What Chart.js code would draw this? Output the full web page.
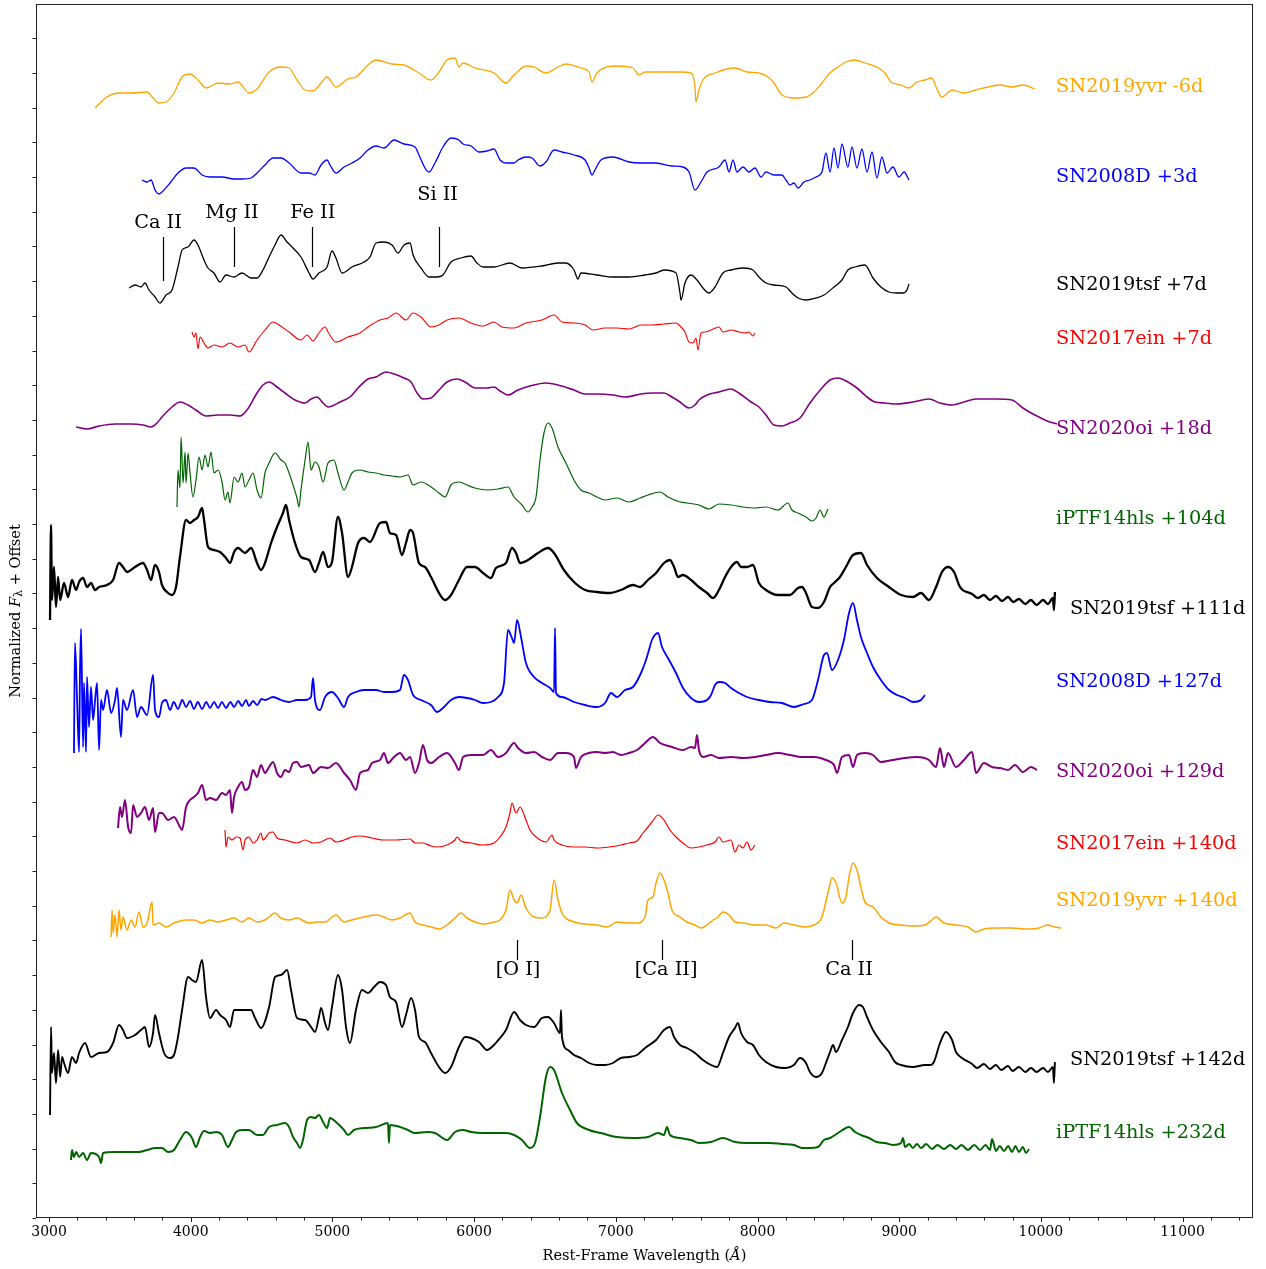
<!DOCTYPE html>
<html>
<head>
<meta charset="utf-8">
<title>Spectral sequence</title>
<script src="https://cdn.jsdelivr.net/npm/chart.js@4.4.1/dist/chart.umd.min.js"></script>
<style>
  html, body { margin: 0; padding: 0; background: #fff; }
  #wrap { width: 1266px; height: 1269px; }
</style>
</head>
<body>
<div id="wrap"><canvas id="spectra" width="1266" height="1269"></canvas></div>
<script>
// wavelength (A) , normalized flux + offset
const yvrEarly = [[3325,111.0],[3409,112.1],[3494,112.5],[3579,112.5],[3692,112.6],[3734,112.0],[3776,111.5],[3826,111.6],[3882,112.5],[3939,114.1],[3995,114.4],[4051,113.8],[4108,113.0],[4193,113.5],[4277,113.4],[4334,113.6],[4411,112.5],[4468,112.9],[4553,114.6],[4637,115.1],[4694,115.0],[4750,113.8],[4807,112.8],[4863,112.7],[4920,113.5],[4962,114.1],[5025,113.1],[5110,113.9],[5166,114.1],[5251,115.3],[5308,115.8],[5421,115.4],[5505,115.3],[5611,114.5],[5696,113.8],[5752,114.6],[5809,115.8],[5865,116.0],[5893,115.1],[5922,115.5],[6006,115.0],[6140,114.5],[6225,113.5],[6282,114.3],[6366,115.2],[6423,115.1],[6507,114.5],[6592,115.1],[6648,115.4],[6754,115.0],[6811,114.6],[6832,113.6],[6867,114.5],[7008,115.2],[7121,115.0],[7164,114.3],[7206,114.6],[7284,114.6],[7453,114.6],[7531,114.5],[7559,113.1],[7566,111.6],[7587,112.8],[7615,113.8],[7700,114.5],[7841,115.0],[7926,114.6],[8010,114.5],[8074,114.1],[8116,113.5],[8173,112.3],[8257,112.0],[8342,112.1],[8399,112.6],[8455,113.5],[8512,114.5],[8568,115.1],[8624,115.6],[8688,115.8],[8758,115.5],[8843,115.1],[8900,114.5],[8942,113.6],[9013,113.3],[9069,113.0],[9125,113.6],[9182,113.8],[9231,114.0],[9260,113.1],[9302,112.1],[9373,112.8],[9457,112.5],[9542,112.8],[9627,113.1],[9711,113.3],[9796,113.1],[9873,113.3],[9958,112.9]];

const d08Early = [[3656,103.8],[3692,103.6],[3720,103.8],[3748,102.8],[3776,102.4],[3797,102.6],[3854,103.5],[3910,104.5],[3967,105.0],[4023,105.0],[4080,104.3],[4136,104.1],[4221,104.1],[4306,103.9],[4362,103.9],[4426,104.0],[4468,104.5],[4524,105.3],[4581,106.0],[4637,106.0],[4694,105.5],[4778,104.5],[4835,104.5],[4877,104.3],[4920,105.3],[4962,105.8],[4983,105.3],[5025,104.5],[5082,105.1],[5138,105.5],[5195,106.0],[5251,106.8],[5308,107.2],[5364,107.0],[5435,107.8],[5505,107.4],[5583,107.1],[5611,106.3],[5653,105.0],[5682,104.6],[5724,105.5],[5780,107.1],[5837,108.0],[5893,107.8],[5922,107.4],[5978,107.2],[6035,106.6],[6091,106.7],[6140,106.9],[6183,105.8],[6225,105.5],[6282,105.5],[6310,105.8],[6366,106.1],[6409,106.0],[6465,105.2],[6507,105.6],[6564,106.8],[6620,106.6],[6705,106.3],[6783,105.8],[6811,105.0],[6832,104.3],[6853,104.8],[6895,105.8],[6980,106.1],[7093,105.6],[7178,105.5],[7284,105.5],[7396,105.2],[7474,105.1],[7517,104.6],[7559,102.8],[7601,103.6],[7644,104.6],[7728,105.1],[7771,105.8],[7799,104.6],[7827,105.8],[7855,104.6],[7898,105.1],[7940,104.6],[7982,105.0],[8025,104.1],[8060,104.6],[8116,104.3],[8173,104.3],[8201,103.8],[8229,103.3],[8257,103.5],[8286,103.0],[8328,103.6],[8370,103.8],[8413,104.1],[8455,104.6],[8483,106.5],[8512,104.6],[8540,107.0],[8568,105.0],[8596,107.4],[8638,105.1],[8667,107.1],[8702,105.0],[8737,106.9],[8773,104.6],[8808,106.6],[8843,104.0],[8878,106.1],[8914,104.5],[8956,105.1],[8998,104.1],[9034,104.6],[9069,103.8]];

const tsfEarly = [[3565,93.0],[3607,93.3],[3649,93.1],[3677,93.5],[3706,92.8],[3748,92.1],[3783,91.5],[3826,92.3],[3868,92.8],[3910,95.1],[3939,96.8],[3981,97.1],[4023,97.8],[4051,97.3],[4094,95.8],[4122,95.0],[4164,94.5],[4207,93.6],[4249,94.3],[4306,94.1],[4362,94.5],[4426,94.0],[4468,94.0],[4510,94.8],[4553,96.1],[4595,97.3],[4637,98.3],[4680,97.6],[4722,97.0],[4778,96.1],[4835,94.5],[4863,93.9],[4905,94.5],[4962,95.1],[4997,96.7],[5025,96.0],[5068,94.5],[5138,95.1],[5223,95.6],[5265,96.1],[5308,97.5],[5364,97.6],[5421,97.3],[5463,96.5],[5505,97.3],[5548,97.5],[5569,96.3],[5625,95.0],[5682,94.1],[5738,94.1],[5780,94.3],[5837,95.6],[5907,96.0],[5978,96.2],[6020,95.5],[6063,95.1],[6140,95.1],[6253,95.5],[6338,95.0],[6479,95.2],[6592,95.5],[6648,95.5],[6705,94.8],[6733,93.9],[6754,94.5],[6867,94.3],[6980,94.1],[7093,94.1],[7206,94.3],[7284,94.5],[7340,94.8],[7425,94.5],[7453,92.5],[7460,91.8],[7488,93.5],[7531,94.3],[7573,93.8],[7615,93.0],[7658,92.5],[7700,93.1],[7756,94.5],[7813,94.8],[7898,95.0],[7968,94.8],[8010,94.1],[8060,93.5],[8116,93.3],[8201,93.1],[8243,92.5],[8286,92.0],[8342,91.8],[8413,92.0],[8469,92.3],[8540,93.1],[8596,93.8],[8638,94.8],[8688,95.1],[8758,95.3],[8815,94.0],[8871,93.1],[8928,92.6],[8984,92.5],[9027,92.5],[9055,92.8],[9069,93.4]];

const einEarly = [[4009,88.6],[4023,88.1],[4037,88.5],[4051,86.9],[4066,88.1],[4094,87.5],[4122,87.0],[4164,87.3],[4221,87.1],[4277,87.5],[4334,87.1],[4383,87.3],[4411,86.6],[4468,87.8],[4524,88.8],[4581,89.6],[4623,89.3],[4694,88.6],[4778,87.8],[4821,88.3],[4863,87.7],[4905,88.5],[4948,89.1],[4969,88.6],[5025,87.6],[5110,88.1],[5195,88.5],[5251,89.1],[5336,89.8],[5392,90.0],[5449,90.5],[5519,89.8],[5569,90.5],[5625,90.1],[5696,89.1],[5752,89.3],[5809,89.8],[5893,90.0],[5978,89.5],[6063,89.2],[6140,89.6],[6197,89.1],[6282,89.0],[6366,89.5],[6479,89.8],[6564,90.3],[6620,89.6],[6705,89.5],[6783,89.3],[6839,88.8],[6924,89.0],[7008,89.0],[7093,88.9],[7178,89.3],[7255,89.3],[7340,89.4],[7425,89.5],[7460,89.1],[7488,88.6],[7517,87.6],[7545,87.5],[7566,88.0],[7580,86.8],[7601,88.5],[7629,88.6],[7672,88.8],[7728,89.1],[7756,88.6],[7813,88.8],[7869,88.6],[7912,88.5],[7940,88.6],[7968,88.2],[7982,88.5]];

const oiEarly = [[3191,79.1],[3268,78.9],[3353,79.2],[3466,79.4],[3579,79.4],[3663,79.3],[3720,79.1],[3762,79.5],[3797,80.1],[3868,81.1],[3924,81.6],[3981,81.3],[4037,80.8],[4108,80.2],[4193,80.3],[4277,80.3],[4348,80.2],[4397,80.8],[4468,82.5],[4510,83.3],[4553,83.6],[4609,83.1],[4665,82.5],[4736,81.8],[4807,81.5],[4849,81.9],[4891,82.1],[4934,81.5],[4969,81.1],[5054,81.6],[5124,82.1],[5181,83.0],[5251,83.9],[5308,84.1],[5378,84.6],[5435,84.4],[5505,84.0],[5555,83.6],[5597,82.5],[5639,81.9],[5696,82.0],[5752,82.8],[5809,83.6],[5879,83.9],[5936,83.6],[6006,83.0],[6091,83.0],[6140,83.1],[6183,82.7],[6239,82.3],[6310,82.8],[6394,83.2],[6507,83.5],[6592,83.3],[6705,82.8],[6783,82.4],[6867,82.4],[6980,82.3],[7065,82.1],[7178,82.4],[7255,82.5],[7340,82.5],[7396,82.1],[7453,81.6],[7488,81.2],[7517,81.0],[7559,81.3],[7587,81.8],[7644,82.3],[7728,82.6],[7813,82.9],[7869,82.5],[7954,81.6],[8010,81.1],[8060,80.3],[8116,79.3],[8173,79.2],[8229,79.5],[8300,80.0],[8370,81.5],[8455,83.0],[8512,83.8],[8568,84.0],[8638,83.6],[8702,83.0],[8773,82.1],[8829,81.6],[8900,81.5],[8984,81.4],[9097,81.6],[9210,81.9],[9288,81.5],[9373,81.3],[9457,81.6],[9542,81.9],[9683,81.9],[9796,81.8],[9873,81.0],[9958,80.3],[10043,79.7],[10113,79.4]];

const hlsEarly = [[3903,71.1],[3910,74.8],[3924,73.0],[3932,78.1],[3946,73.5],[3960,76.6],[3967,73.5],[3981,76.5],[3995,74.5],[4016,72.1],[4037,73.8],[4059,76.1],[4080,74.8],[4101,76.3],[4122,75.1],[4143,76.6],[4164,74.5],[4193,74.8],[4221,73.6],[4242,71.8],[4263,72.6],[4277,71.5],[4306,74.1],[4334,73.6],[4362,74.5],[4383,73.1],[4411,73.8],[4440,74.5],[4468,72.8],[4496,72.0],[4524,74.5],[4553,75.5],[4595,76.5],[4637,75.8],[4665,75.5],[4694,74.5],[4722,73.3],[4750,72.0],[4764,71.1],[4778,72.8],[4807,75.8],[4828,77.6],[4849,74.8],[4877,75.6],[4905,75.1],[4934,73.6],[4969,75.5],[5011,75.8],[5039,74.5],[5082,72.8],[5110,73.6],[5138,74.5],[5195,74.8],[5251,74.6],[5308,74.5],[5364,74.3],[5421,74.2],[5477,74.1],[5533,74.3],[5569,73.3],[5625,73.6],[5696,73.1],[5752,72.5],[5795,72.1],[5837,73.3],[5893,73.6],[5950,73.3],[6006,73.0],[6091,72.8],[6169,72.9],[6239,73.1],[6282,72.1],[6338,71.3],[6380,70.6],[6409,71.1],[6437,72.1],[6465,75.8],[6493,78.5],[6521,79.5],[6550,79.0],[6592,77.1],[6648,75.5],[6705,73.8],[6754,72.8],[6811,72.5],[6867,72.1],[6924,71.8],[7008,72.0],[7093,71.6],[7171,72.0],[7227,72.3],[7312,72.6],[7368,72.1],[7453,71.6],[7502,71.5],[7587,71.3],[7658,70.9],[7728,71.4],[7813,71.3],[7898,71.1],[7982,71.0],[8060,71.1],[8145,70.8],[8215,71.5],[8243,70.8],[8286,70.5],[8342,70.1],[8384,69.7],[8413,70.0],[8441,70.8],[8469,70.1],[8497,70.9]];

const tsfMid = [[3007,59.8],[3014,69.3],[3021,61.8],[3035,65.1],[3049,61.1],[3064,64.1],[3078,61.8],[3106,63.5],[3134,62.1],[3162,63.8],[3191,62.8],[3212,63.6],[3240,64.0],[3268,63.1],[3296,63.5],[3325,62.8],[3353,63.1],[3409,63.3],[3452,63.8],[3494,65.5],[3522,65.1],[3550,64.6],[3607,65.1],[3663,65.5],[3692,64.8],[3720,63.8],[3748,65.3],[3776,64.6],[3797,63.3],[3840,62.5],[3868,62.3],[3896,63.1],[3924,66.1],[3967,69.8],[3995,69.5],[4023,69.8],[4051,70.1],[4080,71.0],[4094,69.8],[4122,67.1],[4164,66.8],[4207,66.6],[4249,66.0],[4277,65.5],[4306,66.6],[4334,67.0],[4383,66.5],[4426,67.0],[4468,65.5],[4496,64.8],[4524,65.5],[4567,67.5],[4609,69.1],[4651,70.5],[4672,71.3],[4694,69.8],[4736,67.5],[4778,66.1],[4835,65.8],[4877,64.6],[4905,65.5],[4934,66.6],[4969,65.1],[4997,65.6],[5039,70.1],[5068,68.5],[5110,64.1],[5138,65.1],[5181,67.5],[5223,68.0],[5265,67.6],[5336,69.5],[5378,69.6],[5406,68.5],[5449,68.3],[5491,66.3],[5519,67.5],[5548,68.8],[5569,68.5],[5611,65.5],[5653,65.1],[5696,64.1],[5752,62.5],[5795,61.8],[5837,62.3],[5893,63.8],[5950,65.1],[6006,65.1],[6063,64.5],[6119,64.0],[6154,65.0],[6225,65.5],[6267,67.0],[6296,66.5],[6324,65.5],[6380,65.8],[6451,66.5],[6521,67.0],[6564,66.5],[6634,64.8],[6705,63.6],[6783,62.8],[6867,62.6],[6952,62.5],[7036,62.8],[7121,63.3],[7171,63.1],[7227,63.8],[7284,64.5],[7340,65.5],[7382,65.8],[7411,65.1],[7439,64.1],[7474,64.3],[7531,63.8],[7587,63.1],[7644,62.5],[7686,62.0],[7728,62.8],[7771,64.1],[7813,65.1],[7855,65.6],[7884,65.1],[7926,65.1],[7968,65.3],[8010,63.5],[8060,62.8],[8145,62.3],[8229,62.3],[8286,63.0],[8314,63.1],[8342,62.5],[8384,61.1],[8427,61.0],[8469,61.6],[8512,63.1],[8540,63.5],[8582,64.1],[8624,65.1],[8674,66.3],[8730,66.5],[8773,65.3],[8843,64.0],[8928,63.1],[9013,62.3],[9097,62.1],[9154,62.5],[9210,61.8],[9260,63.1],[9302,64.6],[9344,65.1],[9387,64.6],[9429,63.1],[9514,62.4],[9555,62.0],[9598,62.3],[9640,61.8],[9683,62.2],[9725,61.7],[9768,62.1],[9805,61.6],[9845,61.9],[9890,61.4],[9930,61.8],[9970,61.3],[10015,61.8],[10050,61.4],[10085,62.0],[10092,60.8],[10099,62.6]];

const d08Late = [[3176,46.5],[3183,57.5],[3198,51.8],[3212,46.6],[3219,55.1],[3226,58.9],[3240,47.1],[3247,53.5],[3261,46.6],[3268,54.1],[3282,49.1],[3296,53.1],[3311,49.8],[3325,51.8],[3339,53.5],[3353,46.8],[3367,51.8],[3381,50.8],[3409,52.8],[3438,50.5],[3466,51.8],[3480,53.0],[3508,48.1],[3522,51.8],[3550,50.8],[3593,52.8],[3621,50.1],[3649,51.1],[3692,50.3],[3734,54.3],[3748,50.8],[3776,50.1],[3797,51.5],[3825,51.8],[3854,50.8],[3880,51.6],[3910,50.9],[3940,51.8],[3967,51.1],[3995,51.7],[4023,50.9],[4050,51.6],[4080,50.9],[4110,51.6],[4136,51.0],[4165,51.6],[4193,51.0],[4220,51.6],[4249,51.0],[4280,51.6],[4306,51.1],[4335,51.7],[4362,51.2],[4390,51.8],[4411,51.2],[4440,51.7],[4468,51.3],[4500,51.9],[4524,51.8],[4581,52.1],[4637,51.8],[4694,51.6],[4750,51.8],[4807,51.8],[4849,52.1],[4863,54.0],[4877,51.8],[4912,50.8],[4948,52.1],[4997,52.6],[5039,52.0],[5082,51.1],[5110,52.1],[5166,52.6],[5223,52.8],[5308,52.8],[5364,52.6],[5421,52.6],[5477,52.8],[5505,54.3],[5533,53.8],[5569,52.3],[5625,51.8],[5696,51.3],[5738,50.6],[5780,51.0],[5837,51.8],[5893,52.1],[5950,52.0],[6006,51.8],[6063,51.5],[6119,51.6],[6169,52.1],[6211,53.5],[6239,58.8],[6267,58.0],[6282,57.5],[6303,59.8],[6331,58.1],[6366,55.5],[6423,54.1],[6479,53.5],[6536,53.0],[6564,52.6],[6571,59.0],[6578,52.5],[6620,52.1],[6705,51.6],[6783,51.3],[6867,51.1],[6924,51.5],[6966,52.5],[7008,52.1],[7065,52.8],[7121,53.1],[7178,54.5],[7213,55.8],[7234,56.8],[7255,57.8],[7298,58.5],[7326,57.1],[7368,56.0],[7425,54.5],[7474,53.0],[7531,52.0],[7587,51.6],[7644,51.8],[7672,52.3],[7700,53.3],[7728,53.6],[7771,53.5],[7813,53.0],[7869,52.5],[7926,52.1],[8010,51.8],[8088,51.6],[8173,51.5],[8257,51.1],[8328,51.4],[8384,51.8],[8427,53.8],[8469,56.3],[8490,56.5],[8526,54.8],[8568,55.8],[8610,57.8],[8646,60.5],[8674,61.5],[8702,59.8],[8730,58.1],[8773,56.5],[8815,55.1],[8871,53.8],[8928,52.8],[8984,52.3],[9041,52.0],[9097,51.6],[9154,51.8],[9182,52.3]];

const oiLate = [[3487,39.0],[3501,41.1],[3515,40.1],[3536,41.8],[3558,39.1],[3579,38.5],[3593,41.3],[3621,40.1],[3649,40.5],[3677,41.1],[3706,39.8],[3734,41.0],[3748,38.6],[3776,40.5],[3797,40.5],[3840,39.8],[3882,40.1],[3924,39.1],[3939,38.8],[3967,41.1],[3995,41.8],[4023,42.1],[4051,42.5],[4080,43.3],[4108,41.8],[4136,42.0],[4179,41.8],[4221,42.5],[4249,42.3],[4277,42.8],[4291,40.5],[4306,42.1],[4334,43.1],[4362,43.6],[4383,42.8],[4411,43.1],[4440,44.8],[4468,44.1],[4496,45.3],[4524,44.5],[4553,45.1],[4581,45.6],[4609,44.5],[4637,44.1],[4665,44.8],[4694,44.6],[4722,45.5],[4750,45.6],[4778,45.1],[4835,45.3],[4863,44.5],[4920,45.1],[4969,45.0],[5025,45.5],[5082,44.5],[5124,43.8],[5166,42.8],[5195,44.5],[5251,44.8],[5279,45.5],[5336,45.8],[5364,46.5],[5392,45.5],[5435,46.1],[5477,46.5],[5519,45.8],[5548,46.1],[5583,44.5],[5611,45.5],[5639,47.3],[5668,45.8],[5696,45.5],[5752,46.1],[5809,46.5],[5865,45.5],[5893,44.8],[5922,46.1],[5978,46.3],[6063,46.3],[6119,46.8],[6169,46.1],[6225,46.5],[6282,47.5],[6310,47.0],[6366,46.5],[6423,46.6],[6479,46.1],[6536,45.8],[6592,46.5],[6648,46.5],[6705,46.1],[6719,45.0],[6754,46.1],[6811,46.5],[6867,46.6],[6924,46.5],[6980,46.6],[7036,46.3],[7093,46.5],[7150,46.8],[7206,47.5],[7262,48.1],[7312,47.5],[7396,47.1],[7474,46.8],[7531,47.1],[7559,47.0],[7573,48.3],[7587,46.8],[7615,46.1],[7672,46.3],[7728,46.0],[7813,46.1],[7898,46.0],[7982,46.1],[8060,46.3],[8145,46.5],[8229,46.3],[8314,46.1],[8399,46.1],[8483,45.8],[8540,45.3],[8561,44.5],[8596,46.1],[8646,46.3],[8674,45.1],[8702,46.3],[8758,46.5],[8815,46.3],[8871,45.6],[8956,45.8],[9041,46.0],[9125,46.1],[9210,45.8],[9260,45.1],[9288,47.0],[9316,45.1],[9344,46.5],[9401,45.1],[9457,45.8],[9514,46.6],[9542,44.5],[9598,45.5],[9655,45.1],[9711,45.0],[9768,44.8],[9817,45.3],[9873,44.6],[9930,45.1],[9972,44.8]];

const einLate = [[4242,38.8],[4249,37.1],[4263,38.1],[4291,37.8],[4320,38.1],[4348,38.0],[4369,36.8],[4383,37.8],[4411,38.1],[4440,37.5],[4468,37.8],[4496,38.5],[4510,37.8],[4553,38.5],[4581,38.6],[4609,38.0],[4665,37.8],[4750,37.5],[4807,37.8],[4863,37.5],[4920,37.6],[4983,38.0],[5025,37.6],[5082,37.8],[5138,38.1],[5195,38.2],[5279,38.0],[5364,37.8],[5449,37.8],[5548,37.9],[5583,37.5],[5639,37.5],[5696,37.2],[5738,37.1],[5809,37.3],[5865,37.8],[5879,38.1],[5907,37.7],[5978,37.5],[6063,37.3],[6140,37.5],[6183,38.1],[6225,39.1],[6253,40.5],[6267,41.5],[6296,40.5],[6324,41.1],[6366,39.8],[6394,38.8],[6437,38.1],[6507,37.6],[6550,38.3],[6564,37.8],[6620,37.3],[6705,37.1],[6783,37.1],[6867,37.0],[6952,37.1],[7036,37.3],[7093,37.5],[7150,37.7],[7192,38.5],[7227,39.1],[7255,39.6],[7298,40.3],[7340,39.8],[7382,38.8],[7425,38.1],[7474,37.5],[7531,37.0],[7587,37.1],[7644,37.3],[7700,37.6],[7728,38.1],[7756,37.6],[7813,37.8],[7841,36.6],[7869,37.3],[7898,37.0],[7926,37.6],[7954,36.8],[7982,37.3]];

const yvrLate = [[3438,28.1],[3445,30.8],[3452,28.5],[3466,30.3],[3480,28.1],[3494,30.8],[3508,28.8],[3522,30.1],[3550,28.8],[3579,29.8],[3607,29.1],[3635,30.6],[3663,29.1],[3692,29.5],[3727,31.6],[3734,29.3],[3776,29.5],[3826,29.1],[3882,29.5],[3967,29.8],[4023,29.8],[4080,29.5],[4136,29.8],[4193,29.6],[4249,29.8],[4306,30.0],[4362,29.6],[4411,30.0],[4468,29.6],[4524,29.8],[4553,30.1],[4595,30.5],[4637,30.0],[4694,29.8],[4750,30.0],[4835,29.5],[4891,29.6],[4948,29.6],[5025,30.3],[5082,29.6],[5138,29.8],[5223,30.1],[5308,30.3],[5364,30.1],[5421,29.8],[5477,30.0],[5548,30.5],[5583,29.6],[5639,29.3],[5696,29.1],[5752,28.9],[5809,29.3],[5865,30.0],[5907,30.5],[5950,30.0],[6006,29.6],[6063,29.4],[6140,29.6],[6183,29.8],[6225,30.8],[6253,32.8],[6282,31.8],[6303,31.5],[6331,32.3],[6366,31.0],[6423,30.1],[6479,30.0],[6536,30.8],[6564,33.8],[6592,31.8],[6620,30.5],[6705,29.6],[6783,29.4],[6867,29.3],[6938,29.1],[7008,29.6],[7093,29.5],[7150,29.5],[7206,30.1],[7227,31.8],[7262,32.1],[7284,33.5],[7312,34.5],[7340,33.8],[7368,32.5],[7396,30.8],[7453,30.1],[7502,29.6],[7559,29.3],[7601,29.0],[7644,29.3],[7686,29.8],[7714,30.0],[7756,30.6],[7799,30.3],[7841,29.6],[7898,29.5],[7982,29.3],[8060,29.3],[8131,29.0],[8187,29.5],[8257,29.3],[8342,29.1],[8399,29.3],[8455,30.1],[8497,32.5],[8526,34.0],[8554,33.5],[8596,31.5],[8624,32.1],[8646,34.1],[8674,35.5],[8702,34.8],[8730,33.1],[8758,31.6],[8815,31.1],[8871,30.1],[8928,29.5],[9013,29.3],[9097,29.2],[9182,29.3],[9231,29.8],[9260,30.1],[9316,29.5],[9401,29.3],[9485,29.1],[9542,28.6],[9598,28.9],[9683,29.0],[9796,29.0],[9902,28.9],[9987,29.0],[10043,29.3],[10099,29.1],[10142,29.0]];

const tsfLate = [[3007,10.3],[3014,19.1],[3021,14.5],[3035,16.5],[3049,13.5],[3064,16.8],[3078,14.1],[3092,16.1],[3106,15.5],[3134,14.5],[3162,16.1],[3191,15.5],[3212,16.5],[3254,17.5],[3296,16.1],[3353,16.5],[3409,16.6],[3452,17.5],[3494,19.3],[3522,18.8],[3550,18.0],[3607,18.3],[3649,18.8],[3677,19.1],[3706,17.1],[3734,18.5],[3748,20.3],[3776,18.5],[3812,16.5],[3854,16.0],[3882,16.3],[3910,18.1],[3939,20.8],[3981,24.1],[4009,23.8],[4037,23.6],[4080,25.8],[4108,22.1],[4136,20.0],[4179,20.8],[4207,20.3],[4249,19.8],[4277,19.1],[4306,20.8],[4362,20.8],[4426,20.8],[4454,20.0],[4496,19.0],[4553,21.1],[4595,24.1],[4637,24.3],[4680,24.8],[4708,22.8],[4750,20.0],[4807,19.8],[4849,19.1],[4877,18.6],[4905,20.1],[4920,21.0],[4948,19.5],[4969,18.8],[4997,21.1],[5039,24.3],[5068,22.8],[5096,19.1],[5124,17.5],[5166,20.8],[5209,22.8],[5251,22.5],[5294,23.1],[5336,23.6],[5378,23.3],[5406,22.1],[5449,21.6],[5491,19.1],[5519,20.3],[5555,22.0],[5583,20.8],[5611,18.1],[5653,17.6],[5696,16.5],[5752,15.1],[5795,14.5],[5837,15.1],[5893,17.1],[5936,18.1],[5978,18.0],[6035,17.6],[6091,16.8],[6140,17.3],[6183,18.0],[6225,18.8],[6282,20.6],[6324,19.8],[6366,19.3],[6423,19.1],[6479,20.0],[6521,20.1],[6564,19.5],[6606,18.5],[6613,20.8],[6620,18.1],[6663,16.8],[6705,16.3],[6754,16.0],[6811,15.5],[6867,15.3],[6924,15.3],[6980,15.5],[7036,16.0],[7093,16.1],[7150,16.3],[7206,17.0],[7284,17.8],[7340,18.8],[7382,19.1],[7411,18.1],[7453,17.3],[7502,17.0],[7559,16.5],[7615,15.8],[7672,15.3],[7714,15.1],[7756,16.5],[7799,18.1],[7841,19.0],[7862,19.5],[7884,18.5],[7926,17.6],[7968,17.3],[8010,16.3],[8060,15.6],[8131,15.1],[8201,15.0],[8257,15.3],[8300,16.0],[8342,15.5],[8370,14.6],[8413,14.1],[8455,14.5],[8483,15.5],[8512,16.6],[8533,17.3],[8554,16.6],[8596,17.8],[8638,19.1],[8674,20.5],[8716,21.3],[8744,21.1],[8773,20.1],[8815,18.8],[8871,17.6],[8928,16.6],[8970,15.6],[9013,15.3],[9097,15.1],[9182,15.3],[9224,15.3],[9245,15.6],[9288,17.5],[9330,18.6],[9373,17.8],[9401,16.6],[9443,16.0],[9514,15.4],[9550,15.0],[9598,15.4],[9640,14.9],[9683,15.3],[9720,14.8],[9768,15.2],[9800,14.7],[9845,15.1],[9890,14.6],[9930,15.0],[9970,14.6],[10015,15.0],[10050,14.6],[10085,15.1],[10092,13.5],[10099,15.6]];

const hlsLate = [[3155,5.8],[3162,6.8],[3176,6.1],[3191,6.6],[3212,6.1],[3240,6.5],[3268,5.8],[3296,6.5],[3353,6.1],[3367,5.5],[3381,6.5],[3466,6.6],[3550,6.6],[3635,6.6],[3692,6.8],[3748,7.0],[3797,7.0],[3840,6.6],[3882,6.8],[3924,7.8],[3967,8.6],[4009,8.0],[4037,7.1],[4066,8.1],[4094,8.7],[4136,8.5],[4179,8.6],[4221,8.3],[4263,7.1],[4291,7.8],[4320,8.6],[4362,8.8],[4411,8.8],[4468,8.3],[4510,8.3],[4553,9.1],[4609,9.3],[4665,9.5],[4694,9.1],[4722,8.1],[4750,7.5],[4771,7.0],[4792,7.8],[4821,9.8],[4849,10.1],[4877,10.0],[4905,10.3],[4934,9.6],[4962,9.0],[4983,10.0],[5025,9.6],[5082,8.8],[5110,8.3],[5152,8.8],[5223,9.0],[5308,9.1],[5392,9.5],[5399,7.5],[5406,9.3],[5477,9.1],[5533,8.8],[5583,8.5],[5668,8.6],[5724,8.5],[5809,7.8],[5865,8.6],[5922,8.8],[5978,8.6],[6063,8.5],[6140,8.5],[6225,8.5],[6282,8.3],[6338,7.8],[6394,7.0],[6430,7.5],[6465,10.1],[6507,14.1],[6536,15.1],[6564,14.8],[6620,12.5],[6677,10.8],[6726,9.5],[6811,8.8],[6895,8.5],[7008,8.1],[7121,8.0],[7227,8.1],[7298,8.5],[7340,8.3],[7361,9.1],[7382,8.3],[7453,8.0],[7531,7.8],[7587,7.5],[7672,7.6],[7756,8.0],[7841,7.6],[7926,7.5],[8010,7.5],[8088,7.5],[8173,7.4],[8257,7.3],[8314,7.0],[8370,7.0],[8427,7.1],[8469,7.8],[8512,8.0],[8568,8.5],[8624,9.0],[8646,9.1],[8688,8.6],[8730,8.3],[8787,8.0],[8843,7.6],[8900,7.5],[8956,7.3],[9013,7.5],[9027,8.0],[9041,7.1],[9070,7.4],[9097,7.0],[9125,7.4],[9154,7.0],[9190,7.4],[9231,6.9],[9270,7.3],[9316,6.9],[9360,7.3],[9401,6.9],[9440,7.3],[9485,6.8],[9530,7.3],[9570,6.8],[9610,7.3],[9641,6.8],[9655,7.9],[9683,6.7],[9710,7.2],[9739,6.7],[9770,7.2],[9796,6.6],[9820,7.2],[9845,6.6],[9873,7.1],[9895,6.5],[9916,6.9]];

// name labels on the right
const labelNames = ["SN2019yvr -6d", "SN2008D +3d", "SN2019tsf +7d", "SN2017ein +7d", "SN2020oi +18d", "iPTF14hls +104d", "SN2019tsf +111d", "SN2008D +127d", "SN2020oi +129d", "SN2017ein +140d", "SN2019yvr +140d", "SN2019tsf +142d", "iPTF14hls +232d"];
const labelWave = [10107, 10107, 10107, 10107, 10107, 10107, 10205, 10107, 10107, 10107, 10107, 10205, 10107];
const labelLevel = [113.1, 104.1, 93.3, 87.9, 78.9, 69.9, 60.9, 53.6, 44.6, 37.4, 31.7, 15.8, 8.5];

// line identifications
const lineNames = ["Ca II", "Mg II", "Fe II", "Si II", "[O I]", "[Ca II]", "Ca II"];
const lineWave = [3801, 4303, 4853, 5752, 6303, 7326, 8670];
const lineTop = [98.1, 99.1, 99.1, 99.1, 27.8, 27.8, 27.8];
const lineBottom = [93.7, 95.1, 95.1, 95.1, 25.8, 25.8, 25.8];
const lineTextWave = [3769, 4291, 4861, 5742, 6310, 7355, 8646];
const lineTextLevel = [99.5, 100.5, 100.5, 102.3, 24.8, 24.8, 24.8];

const xMajorTicks = [3000, 4000, 5000, 6000, 7000, 8000, 9000, 10000, 11000];
const yTickStep = 3.47;

const ORANGE = "#ffa500", BLUE = "#0000ff", BLACK = "#000000", RED = "#ff0000", PURPLE = "#800080", GREEN = "#006400";
const labelColors = [ORANGE, BLUE, BLACK, RED, PURPLE, GREEN, BLACK, BLUE, PURPLE, RED, ORANGE, BLACK, GREEN];

const spectra = [
  [yvrEarly, ORANGE, 1.3],
  [d08Early, BLUE, 1.3],
  [tsfEarly, BLACK, 1.3],
  [einEarly, RED, 1.1],
  [oiEarly, PURPLE, 1.6],
  [hlsEarly, GREEN, 1.2],
  [tsfMid, BLACK, 2.3],
  [d08Late, BLUE, 1.8],
  [oiLate, PURPLE, 2.0],
  [einLate, RED, 1.2],
  [yvrLate, ORANGE, 1.5],
  [tsfLate, BLACK, 1.9],
  [hlsLate, GREEN, 2.0],
];

const SERIF = "'DejaVu Serif', 'Liberation Serif', serif";

const decorPlugin = {
  id: "decor",
  afterDraw(chart) {
    const ctx = chart.ctx;
    const xs = chart.scales.x;
    const ys = chart.scales.y;
    const a = chart.chartArea;
    ctx.save();

    // frame
    ctx.strokeStyle = "#222";
    ctx.lineWidth = 1;
    ctx.strokeRect(a.left + 0.5, a.top + 0.5, a.right - a.left - 1, a.bottom - a.top - 1);

    // ticks
    ctx.beginPath();
    for (let v = 3000; v <= 11400; v += 200) {
      const px = Math.round(xs.getPixelForValue(v)) + 0.5;
      const len = v % 1000 === 0 ? 4 : 2.5;
      ctx.moveTo(px, a.bottom);
      ctx.lineTo(px, a.bottom + len);
    }
    for (let k = 0; k * yTickStep <= ys.max + 0.01; k++) {
      const py = Math.round(ys.getPixelForValue(k * yTickStep)) + 0.5;
      ctx.moveTo(a.left, py);
      ctx.lineTo(a.left - 3.5, py);
    }
    ctx.stroke();

    // line identification marks
    ctx.strokeStyle = "#000";
    ctx.lineWidth = 1.2;
    ctx.beginPath();
    lineWave.forEach((w, i) => {
      const px = Math.round(xs.getPixelForValue(w)) + 0.5;
      ctx.moveTo(px, ys.getPixelForValue(lineTop[i]));
      ctx.lineTo(px, ys.getPixelForValue(lineBottom[i]));
    });
    ctx.stroke();

    ctx.font = "19.3px " + SERIF;
    ctx.fillStyle = "#000";
    ctx.textAlign = "center";
    ctx.textBaseline = "middle";
    lineNames.forEach((n, i) => {
      ctx.fillText(n, xs.getPixelForValue(lineTextWave[i]), ys.getPixelForValue(lineTextLevel[i]));
    });

    // supernova labels
    ctx.textAlign = "left";
    ctx.font = "19.3px " + SERIF;
    labelNames.forEach((n, i) => {
      ctx.fillStyle = labelColors[i];
      ctx.fillText(n, xs.getPixelForValue(labelWave[i]), ys.getPixelForValue(labelLevel[i]));
    });

    // x axis title
    ctx.fillStyle = "#000";
    const cx = (a.left + a.right) / 2;
    const parts = [["Rest-Frame Wavelength (", ""], ["Å", "italic "], [")", ""]];
    let total = 0;
    parts.forEach(p => { ctx.font = p[1] + "14.6px " + SERIF; total += ctx.measureText(p[0]).width; });
    let x = cx - total / 2;
    ctx.textAlign = "left";
    parts.forEach(p => {
      ctx.font = p[1] + "14.6px " + SERIF;
      ctx.fillText(p[0], x, 1256);
      x += ctx.measureText(p[0]).width;
    });

    // y axis title
    ctx.translate(16, (a.top + a.bottom) / 2);
    ctx.rotate(-Math.PI / 2);
    const yparts = [["Normalized ", "14.6px ", 0], ["F", "italic 14.6px ", 0], ["λ", "11px ", 3], [" + Offset", "14.6px ", 0]];
    total = 0;
    yparts.forEach(p => { ctx.font = p[1] + SERIF; total += ctx.measureText(p[0]).width; });
    x = -total / 2;
    yparts.forEach(p => {
      ctx.font = p[1] + SERIF;
      ctx.fillText(p[0], x, p[2]);
      x += ctx.measureText(p[0]).width;
    });
    ctx.restore();
  },
};

new Chart(document.getElementById("spectra"), {
  type: "scatter",
  data: {
    datasets: spectra.map(([pts, color, width]) => ({
      data: pts.map(([w, f]) => ({ x: w, y: f })),
      showLine: true,
      borderColor: color,
      borderWidth: width,
      borderJoinStyle: "round",
      cubicInterpolationMode: "monotone",
      pointRadius: 0,
      fill: false,
    })),
  },
  options: {
    responsive: false,
    animation: false,
    events: [],
    layout: { padding: { left: 36, right: 13, top: 4, bottom: 0 } },
    plugins: {
      legend: { display: false },
      tooltip: { enabled: false },
    },
    scales: {
      x: {
        type: "linear",
        min: 2908,
        max: 11497,
        grid: { display: false, drawTicks: false },
        border: { display: false },
        ticks: {
          color: "#000",
          padding: 6,
          maxRotation: 0,
          autoSkip: false,
          font: { family: SERIF, size: 14 },
          callback: (v) => String(v),
        },
        afterBuildTicks: (scale) => {
          scale.ticks = xMajorTicks.map((v) => ({ value: v }));
        },
        afterFit: (scale) => {
          scale.height = 51;
        },
      },
      y: {
        display: false,
        min: 0,
        max: 121.4,
      },
    },
  },
  plugins: [decorPlugin],
});
</script>
</body>
</html>
